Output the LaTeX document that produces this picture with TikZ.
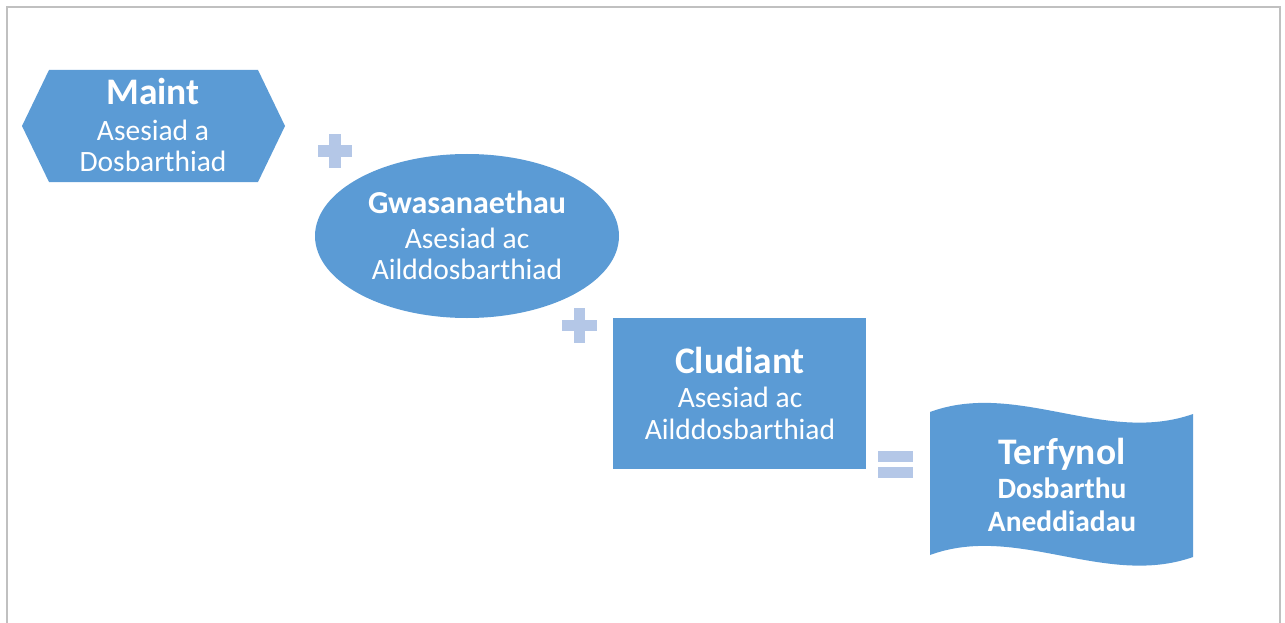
\documentclass[tikz,border=0pt]{standalone}
\usepackage{fontspec}
\setmainfont{Carlito}
\definecolor{shapeblue}{HTML}{5B9BD5}
\definecolor{signblue}{HTML}{B4C7E7}
\definecolor{framegray}{HTML}{C0C0C0}
\begin{document}
\begin{tikzpicture}[x=1pt,y=-1pt,
  shapefill/.style={fill=shapeblue,draw=none},
  signfill/.style={fill=signblue,draw=none},
  title/.style={anchor=base,text=white,inner sep=0pt,font=\fontsize{37.5}{42}\selectfont\bfseries},
  subtitle/.style={anchor=base,text=white,inner sep=0pt,font=\fontsize{29.5}{34}\selectfont},
  subbold/.style={anchor=base,text=white,inner sep=0pt,font=\fontsize{29.5}{34}\selectfont\bfseries}]
\useasboundingbox (0,0) rectangle (1285,623);
% frame
\draw[framegray,line width=2pt] (7,623) -- (7,7) -- (1280,7) -- (1280,623);
% hexagon
\fill[shapefill] (22,126) -- (49,70) -- (258,70) -- (285,126) -- (258,182) -- (49,182) -- cycle;
\node[title] (maint) at (153,104.5) {Maint};
\node[subtitle] (maint2) at (153,140.5) {Asesiad a};
\node[subtitle] (maint3) at (153,171.5) {Dosbarthiad};
% plus 1
\fill[signfill] (318,145) rectangle (352,157);
\fill[signfill] (329,134) rectangle (341,168);
% ellipse
\fill[shapefill] (467,236) ellipse [x radius=152, y radius=82];
\node[title,font=\fontsize{32}{37}\selectfont\bfseries] (gwas) at (467,213) {Gwasanaethau};
\node[subtitle] (gwas2) at (467,248) {Asesiad ac};
\node[subtitle] (gwas3) at (467,279) {Ailddosbarthiad};
% plus 2
\fill[signfill] (562,320) rectangle (597,331);
\fill[signfill] (574,308) rectangle (585,343);
% rectangle
\fill[shapefill] (613,318) rectangle (866,469);
\node[title] (clud) at (740,373.5) {Cludiant};
\node[subtitle] (clud2) at (740,407.5) {Asesiad ac};
\node[subtitle] (clud3) at (740,439.5) {Ailddosbarthiad};
% equals
\fill[signfill] (878,451) rectangle (913,462);
\fill[signfill] (878,467) rectangle (913,478);
% wave
\fill[shapefill] (930,412) .. controls (1017,380) and (1105,445) .. (1193,414)
  -- (1193,557) .. controls (1105,588) and (1017,523) .. (930,555) -- cycle;
\node[title] (terf) at (1062,464) {Terfynol};
\node[subbold] (terf2) at (1062,498) {Dosbarthu};
\node[subbold] (terf3) at (1062,531) {Aneddiadau};
\end{tikzpicture}
\end{document}
